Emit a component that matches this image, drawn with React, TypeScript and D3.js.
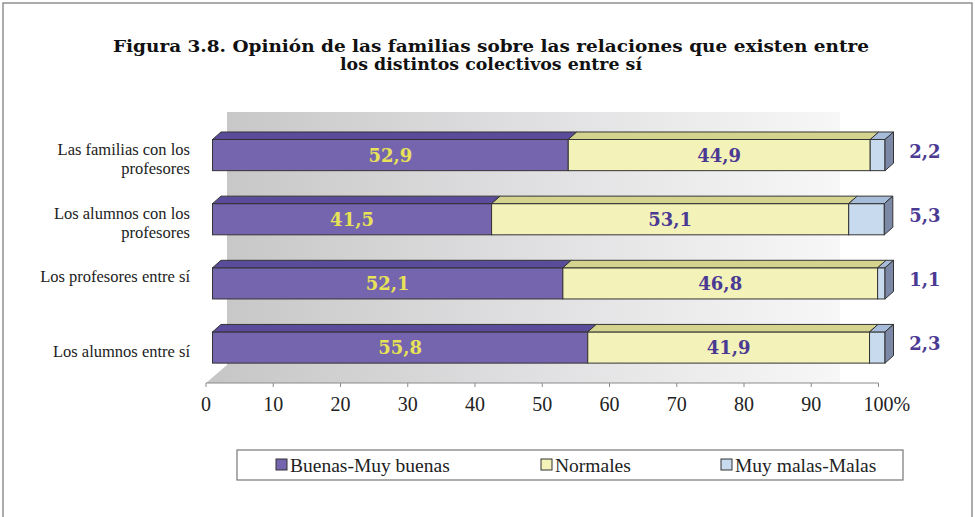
import React from "react";
import * as d3 from "d3";

const categories: string[][] = [
  ["Las familias con los", "profesores"],
  ["Los alumnos con los", "profesores"],
  ["Los profesores entre sí"],
  ["Los alumnos entre sí"],
];
const seriesNames = ["Buenas-Muy buenas", "Normales", "Muy malas-Malas"];
const buenas = [52.9, 41.5, 52.1, 55.8];
const normales = [44.9, 53.1, 46.8, 41.9];
const malas = [2.2, 5.3, 1.1, 2.3];
const ticks = [0, 10, 20, 30, 40, 50, 60, 70, 80, 90, 100];
const titleLines = [
  "Figura 3.8. Opinión de las familias sobre las relaciones que existen entre",
  "los distintos colectivos entre sí",
];

const fronts = ["#7565ae", "#f3f2b9", "#c8daed"];
const tops = ["#5b4b9b", "#d5d48f", "#a6bcd8"];
const sideColor = "#7b88a6";
const purpleText = "#4b3a93";
const yellowText = "#e8e258";
const labelOffsets = [[-5.5, 13.5], [-5.5, 13], [-7], [4]];

export default function App() {
  const W = 975, H = 517;
  const x = d3.scaleLinear().domain([0, 100]).range([206, 878.5]);
  const bx = (v: number) => x(v) + 6.5;
  const ids = categories.map((_, i) => String(i));
  const y = d3.scaleBand().domain(ids).range([123, 379.6]).paddingInner(0.514).paddingOuter(0.257);
  const series = [buenas, normales, malas];
  const stack = categories.map((_, i) => {
    let acc = 0;
    return series.map((s) => {
      const a = acc;
      acc += s[i];
      return [a, acc];
    });
  });
  const dx = 8.5, dy = 7.5;
  const serif = "'Liberation Serif', 'DejaVu Serif', serif";
  const bold = "'DejaVu Serif', serif";
  const wallX0 = x(0) + 21, wallX1 = 840, wallY0 = 112, floorY = 383;

  return (
    <svg width={W} height={H} style={{ position: "absolute", left: 0, top: 0, background: "#fff" }}>
      <defs>
        <linearGradient id="wallg" x1="0" x2="1" y1="0" y2="0">
          <stop offset="0" stopColor="#c6c6c6" />
          <stop offset="0.5" stopColor="#dfdfe1" />
          <stop offset="1" stopColor="#f7f7f7" />
        </linearGradient>
      </defs>
      <rect x={3} y={3} width={969} height={540} fill="#fff" stroke="#808080" strokeWidth={1.3} />
      {titleLines.map((t, i) => (
        <text key={i} x={491} y={51.5 + i * 18.5} textAnchor="middle" fontFamily={bold} fontWeight="bold"
          fontSize={16} fill="#111" textLength={i === 0 ? 756 : 302} lengthAdjust="spacingAndGlyphs">{t}</text>
      ))}
      <polygon
        points={`${wallX0},${wallY0} ${wallX1},${wallY0} ${wallX1},${floorY} ${x(0)},${floorY} ${wallX0},${floorY - 18}`}
        fill="url(#wallg)" />
      {/* axis */}
      <line x1={x(0)} x2={x(100)} y1={383} y2={383} stroke="#8a8a8a" strokeWidth={1} />
      {ticks.map((t) => (
        <g key={t}>
          <line x1={x(t)} x2={x(t)} y1={383} y2={387} stroke="#8a8a8a" />
          <text x={x(t)} y={411} textAnchor="middle" fontFamily={serif} fontSize={20} fill="#222">{t}</text>
        </g>
      ))}
      <text x={x(100) + 15} y={411} fontFamily={serif} fontSize={20} fill="#222">%</text>
      {/* bars */}
      {categories.map((_, i) => {
        const yt = y(String(i))!;
        const h = y.bandwidth();
        return (
          <g key={i}>
            {stack[i].map(([a, b], k) => {
              const x0 = bx(a), x1 = bx(b);
              return (
                <g key={k}>
                  <rect x={x0} y={yt} width={x1 - x0} height={h} fill={fronts[k]} stroke="#333" strokeWidth={1} />
                  <polygon points={`${x0},${yt} ${x0 + dx},${yt - dy} ${x1 + dx},${yt - dy} ${x1},${yt}`}
                    fill={tops[k]} stroke="#333" strokeWidth={1} strokeLinejoin="round" />
                  {k === 2 && (
                    <polygon points={`${x1},${yt} ${x1 + dx},${yt - dy} ${x1 + dx},${yt + h - dy} ${x1},${yt + h}`}
                      fill={sideColor} stroke="#333" strokeWidth={1} strokeLinejoin="round" />
                  )}
                  {k < 2 && (
                    <text x={(x0 + x1) / 2} y={yt + h / 2} dy="0.36em" textAnchor="middle" fontFamily={bold}
                      fontWeight="bold" fontSize={18} fill={k === 0 ? yellowText : purpleText}>
                      {series[k][i].toFixed(1).replace(".", ",")}
                    </text>
                  )}
                </g>
              );
            })}
            <text x={925} y={yt + h / 2 - 4} dy="0.36em" textAnchor="middle" fontFamily={bold}
              fontWeight="bold" fontSize={18} fill={purpleText}>
              {malas[i].toFixed(1).replace(".", ",")}
            </text>
            {categories[i].map((line, j) => (
              <text key={j} x={190} y={yt + h / 2 + labelOffsets[i][j]} dy="0.33em" textAnchor="end"
                fontFamily={serif} fontSize={16.5} fill="#222">{line}</text>
            ))}
          </g>
        );
      })}
      {/* legend */}
      <rect x={237} y={450} width={666} height={30} fill="#fff" stroke="#777" strokeWidth={1.2} />
      {seriesNames.map((n, k) => {
        const lx = [276, 541, 721][k];
        return (
          <g key={n}>
            <rect x={lx} y={459} width={11} height={11} fill={fronts[k]} stroke="#333" strokeWidth={1} />
            <text x={lx + 14} y={465} dy="0.35em" fontFamily={serif} fontSize={19.5} fill="#222">{n}</text>
          </g>
        );
      })}
    </svg>
  );
}
